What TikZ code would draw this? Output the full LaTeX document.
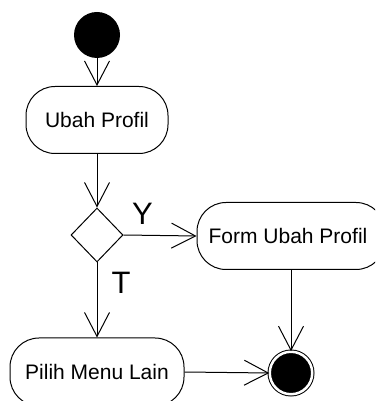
\documentclass[tikz,border=0pt]{standalone}
\usepackage{fontspec}
\setmainfont{Liberation Sans}
\usetikzlibrary{arrows.meta,shapes.geometric}
\begin{document}
\begin{tikzpicture}[x=1pt,y=1pt,
  line width=1pt,
  act/.style={draw, rectangle, rounded corners=29pt, minimum height=67pt, inner sep=0pt, font=\fontsize{21}{24}\selectfont},
  flow/.style={-{Straight Barb[length=24pt,width=25pt,line width=1pt]}},
  lbl/.style={font=\fontsize{31}{36}\selectfont, inner sep=0pt}]
\clip (0,0) rectangle (375,401);
\node[circle, fill=black, minimum size=46pt, inner sep=0pt] (start) at (97,366) {};
\node[act, minimum width=142pt] (ubah) at (97,281) {Ubah Profil};
\node[draw, diamond, minimum width=52pt, minimum height=54pt, inner sep=0pt] (dec) at (97,166) {};
\node[act, minimum width=188pt] (form) at (291,165) {\hspace*{-6pt}Form Ubah Profil};
\node[act, minimum width=174pt, minimum height=68pt] (pilih) at (97,29) {Pilih Menu Lain};
\node[circle, draw, double, double distance=2.5pt, fill=black, minimum size=42.5pt, inner sep=0pt] (final) at (291,28) {};
\node[lbl] (ly) at (142.5,187) {Y};
\node[lbl] (lt) at (121,118) {T};
\draw[flow] (start) -- (ubah);
\draw[flow] (ubah) -- (dec.north);
\draw[flow] (dec.east) -- (form.west);
\draw[flow] (dec.south) -- (pilih.north);
\draw[flow] (form.south) -- (final.north);
\draw[flow] (pilih.east) -- (final.west);
\end{tikzpicture}
\end{document}
